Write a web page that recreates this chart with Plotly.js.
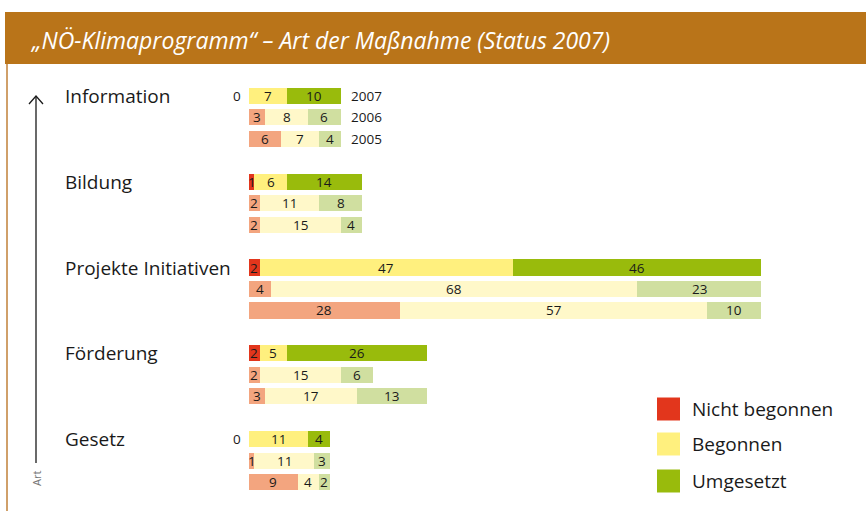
<!DOCTYPE html>
<html>
<head>
<meta charset="utf-8">
<script src="https://cdn.plot.ly/plotly-3.0.1.min.js"></script>
<style>html,body{margin:0;padding:0;background:#fff;}#chart{width:866px;height:511px;}</style>
</head>
<body>
<div id="chart"></div>
<script>
// ---- data ----
const categories = ['Information', 'Bildung', 'Projekte Initiativen', 'Förderung', 'Gesetz'];
const years = ['2007', '2006', '2005'];
// per category: [2007, 2006, 2005]
const nichtBegonnen = [[0, 3, 6], [1, 2, 2], [2, 4, 28], [2, 2, 3], [0, 1, 9]];
const begonnen      = [[7, 8, 7], [6, 11, 15], [47, 68, 57], [5, 15, 17], [11, 11, 4]];
const umgesetzt     = [[10, 6, 4], [14, 8, 4], [46, 23, 10], [26, 6, 13], [4, 3, 2]];
const statusNames = ['Nicht begonnen', 'Begonnen', 'Umgesetzt'];

// ---- styles ----
const strongColors = ['#E2361C', '#FFF07E', '#99BB0C'];
const paleColors   = ['#F3A57F', '#FFF8C9', '#D0DFA0'];
const FONT = 'Open Sans, Noto Sans, sans-serif';
const L = 249, R = 761, T = 85, B = 493, W = 866, H = 511;
const px = v => (v - L) / (R - L);
const py = v => (B - v) / (B - T);
const ROWS_PER_GROUP = 4;
const VALUE_FONT = {family: FONT, size: 13.5, color: '#1a1a1a'};

const series = [nichtBegonnen, begonnen, umgesetzt];
const annotations = [];
const shapes = [];

const traces = series.map((arr, s) => {
  const x = [], y = [], colors = [];
  arr.forEach((vals, g) => {
    vals.forEach((v, j) => {
      x.push(v);
      y.push(g * ROWS_PER_GROUP + j);
      colors.push(j === 0 ? strongColors[s] : paleColors[s]);
      // value label at the middle of the segment
      let start = 0;
      for (let k = 0; k < s; k++) start += series[k][g][j];
      if (v > 0) {
        annotations.push({xref: 'x', yref: 'y', x: start + v / 2, y: g * ROWS_PER_GROUP + j, text: String(v),
          showarrow: false, xanchor: 'center', yanchor: 'middle', font: VALUE_FONT});
      }
    });
  });
  return {
    type: 'bar', orientation: 'h', name: statusNames[s],
    x, y,
    marker: {color: colors, line: {width: 0}},
    hoverinfo: 'skip', showlegend: false
  };
});

// header band
shapes.push({type: 'rect', xref: 'paper', yref: 'paper', x0: px(5), x1: px(W + 2), y0: py(64), y1: py(12),
  fillcolor: '#B97419', line: {width: 0}, layer: 'below'});
// left border line
shapes.push({type: 'line', xref: 'paper', yref: 'paper', x0: px(7), x1: px(7), y0: py(64), y1: py(H + 2),
  line: {color: '#D0A06A', width: 2}});
annotations.push({xref: 'paper', yref: 'paper', x: px(28), y: py(40), xanchor: 'left', yanchor: 'middle',
  text: '„NÖ-Klimaprogramm“ – Art der Maßnahme (Status 2007)', showarrow: false,
  font: {family: FONT, size: 23, color: '#ffffff', style: 'italic'}});

// axis arrow
shapes.push({type: 'line', xref: 'paper', yref: 'paper', x0: px(36), x1: px(36), y0: py(463), y1: py(96),
  line: {color: '#1a1a1a', width: 1.3}});
shapes.push({type: 'path', xref: 'paper', yref: 'paper',
  path: `M ${px(29)},${py(104)} L ${px(36)},${py(96)} L ${px(43)},${py(104)}`,
  line: {color: '#1a1a1a', width: 1.3}});
annotations.push({xref: 'paper', yref: 'paper', x: px(36), y: py(479), text: 'Art', textangle: -90,
  showarrow: false, xanchor: 'center', yanchor: 'middle', font: {family: FONT, size: 11, color: '#777'}});

// category labels, zero labels, year labels
categories.forEach((c, g) => {
  annotations.push({xref: 'paper', yref: 'y', x: px(63), y: g * ROWS_PER_GROUP, text: c, showarrow: false,
    xanchor: 'left', yanchor: 'middle', font: {family: FONT, size: 19, color: '#1a1a1a'}});
  years.forEach((yr, j) => {
    if (nichtBegonnen[g][j] === 0) {
      annotations.push({xref: 'x', yref: 'y', x: 0, y: g * ROWS_PER_GROUP + j, text: '0', showarrow: false,
        xanchor: 'right', yanchor: 'middle', xshift: -6, font: VALUE_FONT});
    }
  });
});
years.forEach((yr, j) => {
  const total = nichtBegonnen[0][j] + begonnen[0][j] + umgesetzt[0][j];
  annotations.push({xref: 'x', yref: 'y', x: total, y: j, text: yr, showarrow: false,
    xanchor: 'left', yanchor: 'middle', xshift: 8, font: VALUE_FONT});
});

// legend
const legendY = [409, 444, 481];
statusNames.forEach((n, s) => {
  shapes.push({type: 'rect', xref: 'paper', yref: 'paper', x0: px(657), x1: px(680),
    y0: py(legendY[s] + 11.5), y1: py(legendY[s] - 11.5), fillcolor: strongColors[s], line: {width: 0}});
  annotations.push({xref: 'paper', yref: 'paper', x: px(690), y: py(legendY[s]), text: n, showarrow: false,
    xanchor: 'left', yanchor: 'middle', font: {family: FONT, size: 19, color: '#1a1a1a'}});
});

const layout = {
  width: W, height: H,
  margin: {l: L, r: W - R, t: T, b: H - B, pad: 0},
  paper_bgcolor: '#ffffff', plot_bgcolor: 'rgba(0,0,0,0)',
  barmode: 'stack', bargap: 0.25,
  xaxis: {visible: false, range: [0, 95], fixedrange: true},
  yaxis: {visible: false, range: [18.5, -0.5], fixedrange: true},
  shapes, annotations, showlegend: false
};

Plotly.newPlot('chart', traces, layout, {displayModeBar: false, staticPlot: true});
</script>
</body>
</html>
